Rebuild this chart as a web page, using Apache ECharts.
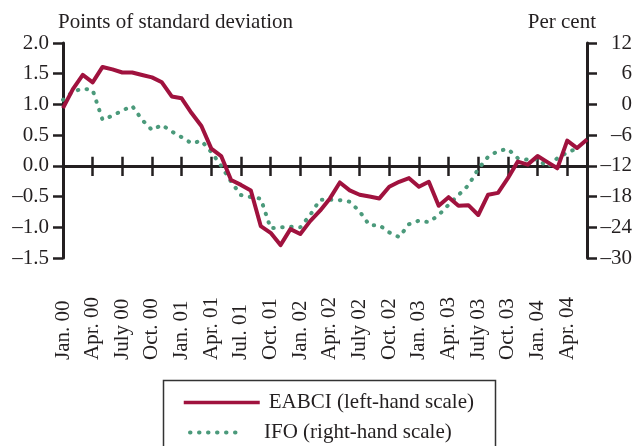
<!DOCTYPE html>
<html>
<head>
<meta charset="utf-8">
<script src="https://cdn.jsdelivr.net/npm/echarts@6/dist/echarts.min.js"></script>
<style>
  html, body { margin: 0; background: #fff; }
  #chart { width: 641px; height: 446px; }
</style>
</head>
<body>
<div id="chart"></div>
<script>
// quarterly tick labels, Jan. 2000 - Apr. 2004
const tickLabels = ['Jan. 00', 'Apr. 00', 'July 00', 'Oct. 00', 'Jan. 01', 'Apr. 01', 'Jul. 01', 'Oct. 01',
  'Jan. 02', 'Apr. 02', 'July 02', 'Oct. 02', 'Jan. 03', 'Apr. 03', 'July 03', 'Oct. 03', 'Jan. 04', 'Apr. 04']

// EABCI, points of standard deviation (left-hand scale), monthly Jan. 00 - June 04
const eabci = [0.94, 1.25, 1.48, 1.36, 1.61, 1.57, 1.52, 1.52, 1.48, 1.44, 1.36, 1.13,
  1.10, 0.86, 0.65, 0.28, 0.16, -0.23, -0.31, -0.40, -0.98, -1.09, -1.29, -1.03,
  -1.11, -0.90, -0.73, -0.53, -0.27, -0.40, -0.47, -0.50, -0.53, -0.34, -0.26, -0.20,
  -0.34, -0.26, -0.65, -0.51, -0.65, -0.64, -0.80, -0.47, -0.44, -0.20, 0.07, 0.02,
  0.16, 0.06, -0.04, 0.41, 0.29, 0.43]

// IFO, per cent (right-hand scale), monthly Jan. 00 - May 04
const ifo = [0.9, 2.5, 3.1, 2.8, -3.0, -2.2, -1.2, -0.3, -3.0, -5.0, -4.0, -5.3,
  -6.4, -7.6, -7.1, -9.3, -12.0, -15.1, -17.7, -18.1, -18.4, -24.2, -24.0, -23.9,
  -24.0, -21.6, -18.6, -18.6, -18.7, -19.0, -20.9, -23.6, -23.6, -25.0, -25.9, -23.4,
  -22.7, -23.0, -21.6, -19.6, -17.7, -15.8, -12.6, -10.2, -9.1, -8.7, -10.5, -10.8,
  -10.7, -12.2, -10.5, -9.4, -8.6, null]

const months = eabci.map((v, i) => (2000 + Math.floor(i / 12)) + '-' + (i % 12 + 1))

const font = '"Liberation Serif", "Times New Roman", serif'
const ink = '#231f20'
const red = '#a0123e'
const green = '#4b9a7b'
const dots = { color: green, width: 4, type: [0.5, 8.5], cap: 'round' }

const dash = (v, d) => (v < 0 ? '\u2013' : '') + Math.abs(v).toFixed(d)

const option = {
  animation: false,
  textStyle: { fontFamily: font, color: ink },
  grid: [
    { left: 63, right: 54, top: 43, height: 215 },
    // holds the rotated month labels
    { left: 63, right: 54, top: 361, height: 1 },
    // bottom edge sits on the zero line, for the downward ticks
    { left: 63, right: 54, top: 43, height: 123 },
  ],
  legend: [
    {
      data: ['EABCI (left-hand scale)'],
      left: 182, top: 392, padding: 0,
      itemWidth: 76, itemHeight: 8,
      itemStyle: { opacity: 0 },
      lineStyle: { color: red, width: 3.5 },
      textStyle: { fontFamily: font, fontSize: 21, color: ink, padding: [0, 0, 0, 4] },
    },
    {
      data: ['IFO (right-hand scale)'],
      left: 188, top: 422, padding: 0,
      itemWidth: 54, itemHeight: 8,
      itemStyle: { opacity: 0 },
      lineStyle: dots,
      textStyle: { fontFamily: font, fontSize: 21, color: ink, padding: [0, 0, 0, 15] },
    },
  ],
  graphic: [
    {
      type: 'rect',
      shape: { x: 163.5, y: 380.5, width: 332, height: 90 },
      style: { fill: 'none', stroke: '#333', lineWidth: 1.5 },
    },
  ],
  xAxis: [
    {
      type: 'category', data: months, boundaryGap: false, gridIndex: 0,
      axisLine: { onZero: true, onZeroAxisIndex: 0, lineStyle: { color: ink, width: 3 } },
      axisTick: { inside: true, length: 9, interval: 2, lineStyle: { color: ink, width: 2.5 } },
      axisLabel: { show: false },
    },
    {
      type: 'category', data: months, boundaryGap: false, gridIndex: 1, position: 'top',
      axisLine: { show: false }, axisTick: { show: false },
      axisLabel: {
        interval: 2, rotate: 90, margin: 1,
        fontFamily: font, fontSize: 21, color: ink,
        formatter: (v, i) => tickLabels[i / 3] || '',
      },
    },
    {
      type: 'category', data: months, boundaryGap: false, gridIndex: 2, position: 'bottom',
      axisLine: { show: false, onZero: false },
      axisTick: { inside: false, length: 10, interval: 2, lineStyle: { color: ink, width: 2.5 } },
      axisLabel: { show: false },
    },
  ],
  yAxis: [
    {
      type: 'value', min: -1.5, max: 2, interval: 0.5, gridIndex: 0,
      name: 'Points of standard deviation', nameGap: 10,
      nameTextStyle: { fontFamily: font, fontSize: 21, color: ink, align: 'left', padding: [0, 0, 0, -5] },
      axisLine: { show: true, onZero: false, lineStyle: { color: ink, width: 3 } },
      axisTick: { show: true, length: 10, lineStyle: { color: ink, width: 2.5 } },
      axisLabel: { margin: 14, fontFamily: font, fontSize: 21, color: ink, formatter: (v) => dash(v, 1) },
      splitLine: { show: false },
    },
    {
      type: 'value', min: -30, max: 12, interval: 6, gridIndex: 0, position: 'right',
      name: 'Per cent', nameGap: 10,
      nameTextStyle: { fontFamily: font, fontSize: 21, color: ink, align: 'right', padding: [0, -9, 0, 0] },
      axisLine: { show: true, onZero: false, lineStyle: { color: ink, width: 3 } },
      axisTick: { show: true, length: 10, lineStyle: { color: ink, width: 2.5 } },
      axisLabel: { margin: 45, align: 'right', fontFamily: font, fontSize: 21, color: ink, formatter: (v) => dash(v, 0) },
      splitLine: { show: false },
    },
    { type: 'value', gridIndex: 1, show: false },
    { type: 'value', gridIndex: 2, show: false },
  ],
  series: [
    {
      name: 'IFO (right-hand scale)', type: 'line', data: ifo,
      xAxisIndex: 0, yAxisIndex: 1,
      symbol: 'none',
      lineStyle: dots,
      itemStyle: { color: green },
    },
    {
      name: 'EABCI (left-hand scale)', type: 'line', data: eabci,
      xAxisIndex: 0, yAxisIndex: 0,
      symbol: 'none',
      lineStyle: { color: red, width: 4, join: 'round' },
      itemStyle: { color: red },
    },
  ],
}

const chart = echarts.init(document.getElementById('chart'))
chart.setOption(option)
</script>
</body>
</html>
